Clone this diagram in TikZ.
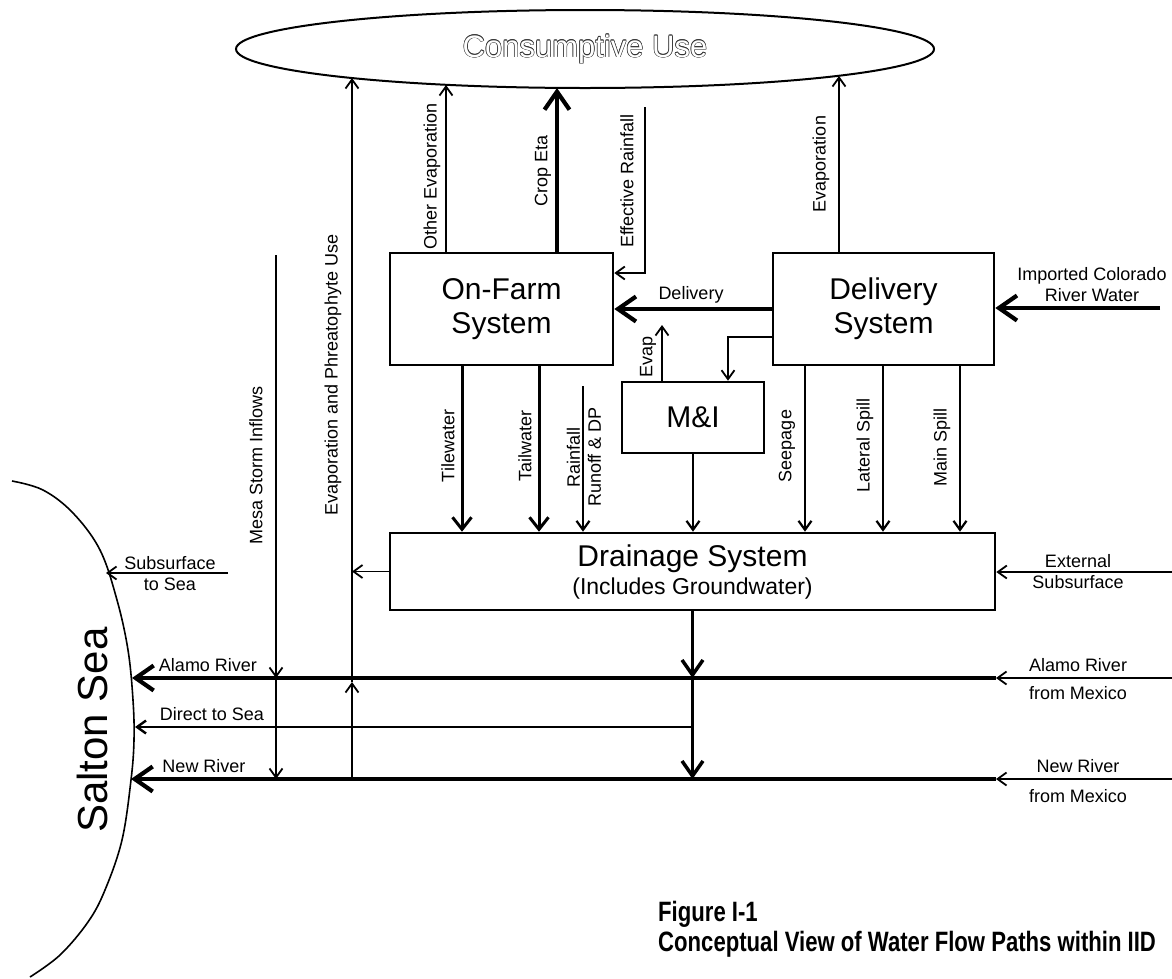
\documentclass[tikz,border=0pt]{standalone}
\usepackage{fontspec}
\setmainfont{Liberation Sans}
\newfontfamily\capfont[FakeStretch=0.79]{Liberation Sans}
\usetikzlibrary{arrows.meta,shapes.geometric}
\newcommand\oltext[1]{{\def\oc##1##2{\rlap{\kern##1\raise##2\hbox{\color{black!80}#1}}}%
\oc{0.6pt}{0pt}\oc{-0.6pt}{0pt}\oc{0pt}{0.6pt}\oc{0pt}{-0.6pt}%
\oc{0.42pt}{0.42pt}\oc{-0.42pt}{0.42pt}\oc{0.42pt}{-0.42pt}\oc{-0.42pt}{-0.42pt}%
\textcolor{white}{#1}}}
\tikzset{
  sysbox/.style={draw, line width=2.6pt, inner sep=0pt, align=center, font=\fontsize{30}{34}\selectfont},
  lbl/.style={inner sep=0pt, align=center, font=\fontsize{18}{21}\selectfont},
  vlbl/.style={lbl, rotate=90},
  thinarr/.style={line width=1.8pt, -{Straight Barb[length=9pt,width=13pt]}},
  medarr/.style={line width=3pt, -{Straight Barb[length=12pt,width=19pt]}},
  downarr/.style={line width=3.5pt, -{Straight Barb[length=15pt,width=21pt]}},
  thickarr/.style={line width=4.2pt, -{Straight Barb[length=18pt,width=25pt]}},
}
\begin{document}
\begin{tikzpicture}[x=1pt,y=-1pt]
\fill[white] (0,0) rectangle (1172,978);
\useasboundingbox (0,0) rectangle (1172,978);

% ---- nodes
\node[draw, ellipse, line width=2pt, minimum width=698pt, minimum height=78pt, inner sep=0pt,
      font=\fontsize{31}{36}\selectfont] (cu) at (585,49) {\oltext{Consumptive Use}};
\node[sysbox, minimum width=223pt, minimum height=112pt] (onfarm) at (501.5,309) {On-Farm\\System};
\node[sysbox, minimum width=221pt, minimum height=112pt] (deliv) at (883.5,309) {Delivery\\System};
\node[sysbox, minimum width=142pt, minimum height=71pt] (mi) at (693,417.5) {M\&I};
\node[sysbox, minimum width=605pt, minimum height=77pt] (drain) at (692.5,571.5)
  {Drainage System\\[-6pt]{\fontsize{23}{26}\selectfont (Includes Groundwater)}};

% Salton Sea shore
\draw[line width=1.6pt] plot[smooth, tension=0.6] coordinates
  {(12,481) (43,490) (73,513) (100,550) (117,600) (128,650) (133,700) (134,740) (131,780) (122,840) (105,890) (88,922) (60,955) (30,977)};
\node[rotate=90, inner sep=0pt, font=\fontsize{42}{48}\selectfont] (salton) at (92,730) {Salton Sea};

% ---- named coordinates
\coordinate (cuEP) at (352,78);
\coordinate (cuOE) at (446,85);
\coordinate (cuCE) at (557,88);
\coordinate (cuEV) at (839,76);
\coordinate (erTop) at (645,107);
\coordinate (impStart) at (1160,308);
\coordinate (miEvapTop) at (662,325);
\coordinate (xTile) at (462,0);
\coordinate (xTail) at (539,0);
\coordinate (rrTop) at (583,386);
\coordinate (xSeep) at (805,0);
\coordinate (xLat) at (883,0);
\coordinate (xMain) at (960,0);
\coordinate (extStart) at (1172,572);
\coordinate (ssStart) at (228,573);
\coordinate (seaS) at (106,573);
\coordinate (mesaTop) at (276,255);
\coordinate (mesaA) at (276,678);
\coordinate (mesaN) at (276,779);
\coordinate (epBot) at (352,779);
\coordinate (epMid) at (352,682);
\coordinate (jA) at (692.5,678);
\coordinate (jD) at (692.5,727);
\coordinate (jN) at (692.5,779);
\coordinate (alR) at (1172,678);
\coordinate (alM) at (996,678);
\coordinate (seaA) at (132,678);
\coordinate (seaD) at (135,727);
\coordinate (nrR) at (1172,779);
\coordinate (nrM) at (996,779);
\coordinate (seaN) at (131,779);

% ---- connectors to consumptive use
\draw[thinarr] (onfarm.north -| cuOE) -- (cuOE);
\draw[thickarr] (onfarm.north -| cuCE) -- (cuCE);
\draw[thinarr] (deliv.north -| cuEV) -- (cuEV);
\draw[thinarr] (erTop) |- ([yshift=36pt]onfarm.east);
\draw[thinarr] (epBot) -- (epMid);
\draw[thinarr] (epMid) -- (cuEP);

% ---- delivery
\draw[thickarr] (deliv.west) -- (onfarm.east);
\draw[thickarr] (impStart) -- (deliv.east |- impStart);
\draw[thinarr] ([yshift=-28pt]deliv.west) -| ([xshift=35pt]mi.north);
\draw[thinarr] ([xshift=-31pt]mi.north) -- (miEvapTop);

% ---- into drainage
\draw[medarr] (onfarm.south -| xTile) -- (drain.north -| xTile);
\draw[medarr] (onfarm.south -| xTail) -- (drain.north -| xTail);
\draw[thinarr, line width=2.2pt] (rrTop) -- (drain.north -| rrTop);
\draw[thinarr, line width=2.2pt] (mi.south) -- (drain.north -| mi.south);
\draw[thinarr, line width=2.2pt] (deliv.south -| xSeep) -- (drain.north -| xSeep);
\draw[thinarr, line width=2.2pt] (deliv.south -| xLat) -- (drain.north -| xLat);
\draw[thinarr, line width=2.2pt] (deliv.south -| xMain) -- (drain.north -| xMain);
\draw[thinarr] (extStart) -- (drain.east |- extStart);
\draw[thinarr] (drain.west) -- (drain.west -| cuEP);

% ---- out of drainage / rivers
\draw[downarr] (drain.south) -- (jA);
\draw[downarr] (jA) -- (jN);
\draw[thinarr, line width=2.4pt] (jD) -- (seaD);
\draw[thinarr] (alR) -- (alM);
\draw[thickarr] (alM) -- (seaA);
\draw[thinarr] (nrR) -- (nrM);
\draw[thickarr] (nrM) -- (seaN);
\draw[thinarr] (ssStart) -- (seaS);
\draw[thinarr] (mesaTop) -- (mesaA);
\draw[thinarr] (mesaA) -- (mesaN);

% ---- labels
\node[vlbl] (lEP) at (333,375) {Evaporation and Phreatophyte Use};
\node[vlbl] (lMesa) at (256,465) {Mesa Storm Inflows};
\node[vlbl] (lOE) at (432,176) {Other Evaporation};
\node[vlbl] (lCE) at (543,171) {Crop Eta};
\node[vlbl] (lER) at (627,181) {Effective Rainfall};
\node[vlbl] (lEV) at (821,164) {Evaporation};
\node[vlbl] (lEvap) at (648,357) {Evap};
\node[vlbl] (lTile) at (448,446) {Tilewater};
\node[vlbl] (lTail) at (525,446) {Tailwater};
\node[vlbl] (lRR) at (584,457) {Rainfall\\Runoff \& DP};
\node[vlbl] (lSeep) at (787,446) {Seepage};
\node[vlbl] (lLat) at (865,445) {Lateral Spill};
\node[vlbl] (lMain) at (942,447) {Main Spill};
\node[lbl] (lDel) at (691,295) {Delivery};
\node[lbl] (lImp) at (1092,285) {Imported Colorado\\River Water};
\node[lbl] (lExt) at (1078,572) {External\\Subsurface};
\node[lbl] (lSS) at (170,574) {Subsurface\\to Sea};
\node[lbl] (lAl) at (208,665) {Alamo River};
\node[lbl] (lDir) at (212,714) {Direct to Sea};
\node[lbl] (lNew) at (204,766) {New River};
\node[lbl] (lAlR) at (1078,665) {Alamo River};
\node[lbl] (lAlM) at (1078,693) {from Mexico};
\node[lbl] (lNewR) at (1078,766) {New River};
\node[lbl] (lNewM) at (1078,796) {from Mexico};

\node[anchor=north west, align=left, inner sep=0pt, font=\capfont\bfseries\fontsize{28}{30}\selectfont]
  (caption) at (658,901) {Figure I-1\\Conceptual View of Water Flow Paths within IID};
\end{tikzpicture}
\end{document}
